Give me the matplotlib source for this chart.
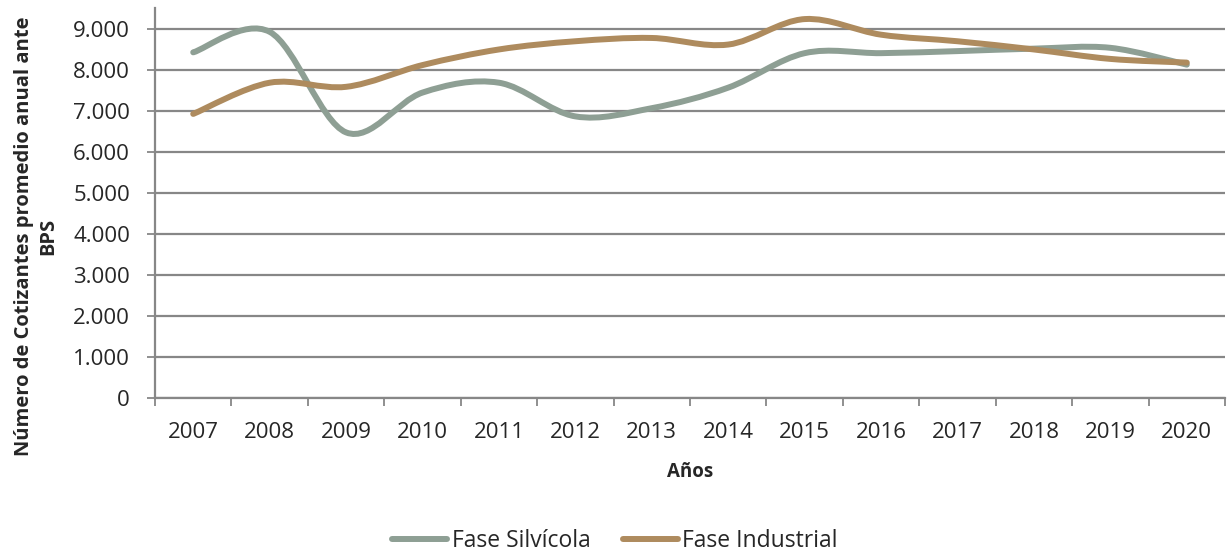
import numpy as np
import matplotlib
matplotlib.use("Agg")
import matplotlib.pyplot as plt
from matplotlib.path import Path
from matplotlib.patches import PathPatch
from matplotlib.lines import Line2D
from matplotlib.ticker import FuncFormatter, FixedLocator

plt.rcParams['font.family'] = ['Open Sans', 'DejaVu Sans']

years = ['2007', '2008', '2009', '2010', '2011', '2012', '2013',
         '2014', '2015', '2016', '2017', '2018', '2019', '2020']
silvicola = [8420, 8920, 6470, 7440, 7680, 6860, 7060,
             7560, 8400, 8400, 8450, 8510, 8530, 8120]
industrial = [6920, 7680, 7580, 8110, 8490, 8690, 8770,
              8610, 9230, 8850, 8690, 8490, 8260, 8170]

c_silv = '#8E9F94'
c_ind = '#AE8B5E'
grid_c = '#878787'
txt_c = '#262626'


def smooth_path(xs, ys, t=1/6):
    # Bezier path through the points (Excel-like smoothed line)
    pts = np.column_stack([xs, ys]).astype(float)
    verts = [pts[0]]
    codes = [Path.MOVETO]
    n = len(pts)
    for i in range(n - 1):
        p0 = pts[i - 1] if i > 0 else pts[i]
        p1 = pts[i]
        p2 = pts[i + 1]
        p3 = pts[i + 2] if i + 2 < n else pts[i + 1]
        c1 = p1 + (p2 - p0) * t
        c2 = p2 - (p3 - p1) * t
        verts += [c1, c2, p2]
        codes += [Path.CURVE4] * 3
    return Path(verts, codes)


fig = plt.figure(figsize=(12.29, 5.56), dpi=100)
ax = fig.add_axes([155/1229, 1 - 398/556, 1070/1229, 390/556])

x = np.arange(len(years))
for vals, col in [(silvicola, c_silv), (industrial, c_ind)]:
    patch = PathPatch(smooth_path(x, vals), facecolor='none', edgecolor=col,
                      lw=4.3, capstyle='round', joinstyle='round', zorder=3)
    ax.add_patch(patch)

ax.set_xlim(-0.5, len(years) - 0.5)
ax.set_ylim(0, 9500)
ax.yaxis.set_major_locator(FixedLocator(np.arange(0, 9001, 1000)))
ax.yaxis.set_major_formatter(FuncFormatter(lambda v, p: f"{int(v):,}".replace(",", ".")))
ax.grid(axis='y', color=grid_c, lw=1.6)
ax.set_axisbelow(True)

ax.set_xticks(x)
ax.set_xticklabels(years)
ax.set_xticks(np.arange(-0.5, len(years), 1), minor=True)
ax.tick_params(axis='x', which='major', length=0, pad=17, labelsize=16, colors=txt_c)
ax.tick_params(axis='x', which='minor', length=6, width=1.3, color=grid_c)
ax.tick_params(axis='y', length=6, width=1.3, color=grid_c, labelsize=16, labelcolor=txt_c, pad=12)

for s in ['top', 'right']:
    ax.spines[s].set_visible(False)
for s in ['left', 'bottom']:
    ax.spines[s].set_color(grid_c)
    ax.spines[s].set_linewidth(1.6)

ax.set_xlabel('Años', fontsize=13.5, fontweight='bold', color=txt_c)
ax.xaxis.set_label_coords(0.5, (398 - 462) / 390)
ax.set_ylabel('Número de Cotizantes promedio anual ante\nBPS', fontsize=14.5,
              fontweight='bold', color=txt_c, linespacing=1.25)
ax.yaxis.set_label_coords((58 - 155) / 1070, (398 - 236) / 390)

handles = [Line2D([], [], color=c_silv, lw=4.3, solid_capstyle='round'),
           Line2D([], [], color=c_ind, lw=4.3, solid_capstyle='round')]
fig.legend(handles, ['Fase Silvícola', 'Fase Industrial'], loc='center',
           bbox_to_anchor=(615/1229, 1 - 541/556), ncol=2, frameon=False,
           fontsize=16.5, handlelength=2.4, handletextpad=0.2, columnspacing=1.4,
           labelcolor=txt_c)

fig.savefig('out.png', dpi=100)
